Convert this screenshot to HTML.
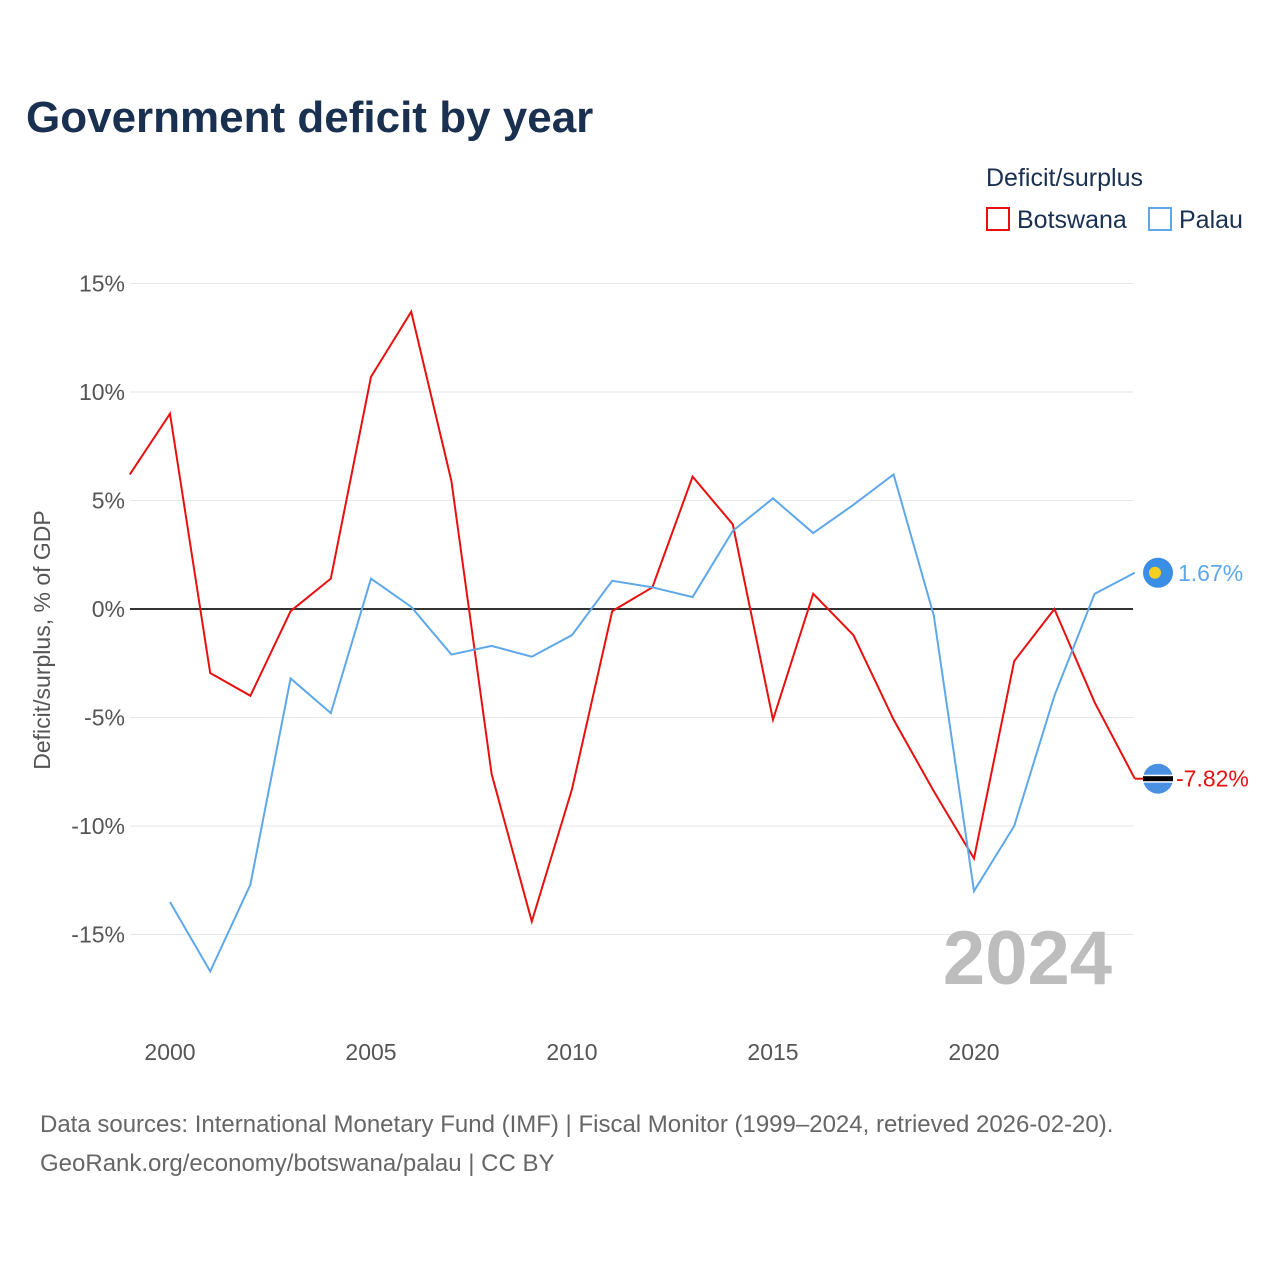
<!DOCTYPE html>
<html><head><meta charset="utf-8"><style>
body{margin:0;background:#fff;font-family:"Liberation Sans",sans-serif}
svg text{font-family:"Liberation Sans",sans-serif}
</style></head><body>
<svg id="c" width="1280" height="1280">
<text x="26" y="132" font-size="44" font-weight="bold" fill="#1a3050">Government deficit by year</text>
<text x="986" y="186" font-size="25" fill="#1a3050">Deficit/surplus</text>
<g><rect x="987" y="208" width="22" height="22" fill="none" stroke="#e8100e" stroke-width="2"/><text x="1017" y="228" font-size="25" fill="#1a3050">Botswana</text></g>
<g><rect x="1149" y="208" width="22" height="22" fill="none" stroke="#5ea8ea" stroke-width="2"/><text x="1179" y="228" font-size="25" fill="#1a3050">Palau</text></g>
<text transform="translate(50,640) rotate(-90)" text-anchor="middle" font-size="23" fill="#555">Deficit/surplus, % of GDP</text>
<g id="grid"></g><g id="lines"></g>
<text x="1112" y="984" text-anchor="end" font-size="76" font-weight="bold" fill="#bdbdbd">2024</text>
<text x="40" y="1132" font-size="24" fill="#666">Data sources: International Monetary Fund (IMF) | Fiscal Monitor (1999–2024, retrieved 2026-02-20).</text>
<text x="40" y="1171" font-size="24" fill="#666">GeoRank.org/economy/botswana/palau | CC BY</text>
</svg>
<script>
const years=[1999,2000,2001,2002,2003,2004,2005,2006,2007,2008,2009,2010,2011,2012,2013,2014,2015,2016,2017,2018,2019,2020,2021,2022,2023,2024];
const botswana=[6.2,9.0,-2.95,-4.0,-0.1,1.4,10.7,13.7,5.9,-7.6,-14.4,-8.3,-0.1,1.0,6.1,3.9,-5.1,0.7,-1.2,-5.1,-8.4,-11.5,-2.4,0.0,-4.3,-7.82];
const palau=[null,-13.5,-16.7,-12.7,-3.2,-4.8,1.4,0.1,-2.1,-1.7,-2.2,-1.2,1.3,1.0,0.55,3.6,5.1,3.5,4.8,6.2,-0.3,-13.0,-10.0,-4.0,0.7,1.67];
const yTicks=[15,10,5,0,-5,-10,-15];
const xTicks=[2000,2005,2010,2015,2020];
const NS="http://www.w3.org/2000/svg";
const x=y=>170+(y-2000)*40.2;
const yv=v=>609-v*21.7;
function mk(t,a,p){const e=document.createElementNS(NS,t);for(const k in a)e.setAttribute(k,a[k]);p.appendChild(e);return e;}
const g=document.getElementById('grid'),L=document.getElementById('lines');
yTicks.forEach(v=>{
 const l=mk('line',{x1:130,x2:1133,y1:yv(v),y2:yv(v),stroke:v===0?'#333':'#e6e6e6','stroke-width':v===0?2:1},g);
 
 
 const t=mk('text',{x:125,y:yv(v)+8,'text-anchor':'end','font-size':23,fill:'#555'},g);
 t.textContent=v+'%';
 
 
});
xTicks.forEach(v=>{
 const t=mk('text',{x:x(v),y:1060,'text-anchor':'middle','font-size':23,fill:'#555'},g);
 t.textContent=v;
 
 
});
function line(data,color,name){
 let d='';data.forEach((v,i)=>{if(v===null)return;d+=(d?'L':'M')+x(years[i])+','+yv(v);});
 const p=mk('path',{d:d,fill:'none',stroke:color,'stroke-width':2},L);
 
 
}
line(botswana,'#e8100e','botswana-line');
line(palau,'#5ea8ea','palau-line');
const lb=botswana[botswana.length-1],lp=palau[palau.length-1];
const lx=x(2024);
mk('line',{x1:lx,x2:lx+10,y1:yv(lb),y2:yv(lb),stroke:'#e8100e','stroke-width':2},L);
const fb=mk('g',{},L);


mk('circle',{cx:1158,cy:yv(lb),r:15,fill:'#4a90e2'},fb);
mk('rect',{x:1143,y:yv(lb)-4,width:30,height:8,fill:'#fff'},fb);
mk('rect',{x:1143,y:yv(lb)-2.5,width:30,height:5,fill:'#000'},fb);
const fp=mk('g',{},L);


mk('circle',{cx:1158,cy:yv(lp),r:15,fill:'#3a8ee6'},fp);
mk('circle',{cx:1155,cy:yv(lp),r:6,fill:'#f5d020'},fp);
const tb=mk('text',{x:1176,y:yv(lb)+8,'font-size':23,fill:'#e8100e'},L);
tb.textContent=lb.toFixed(2)+'%';


const tp=mk('text',{x:1178,y:yv(lp)+8,'font-size':23,fill:'#5ea8ea'},L);
tp.textContent=lp.toFixed(2)+'%';


</script>
</body></html>
